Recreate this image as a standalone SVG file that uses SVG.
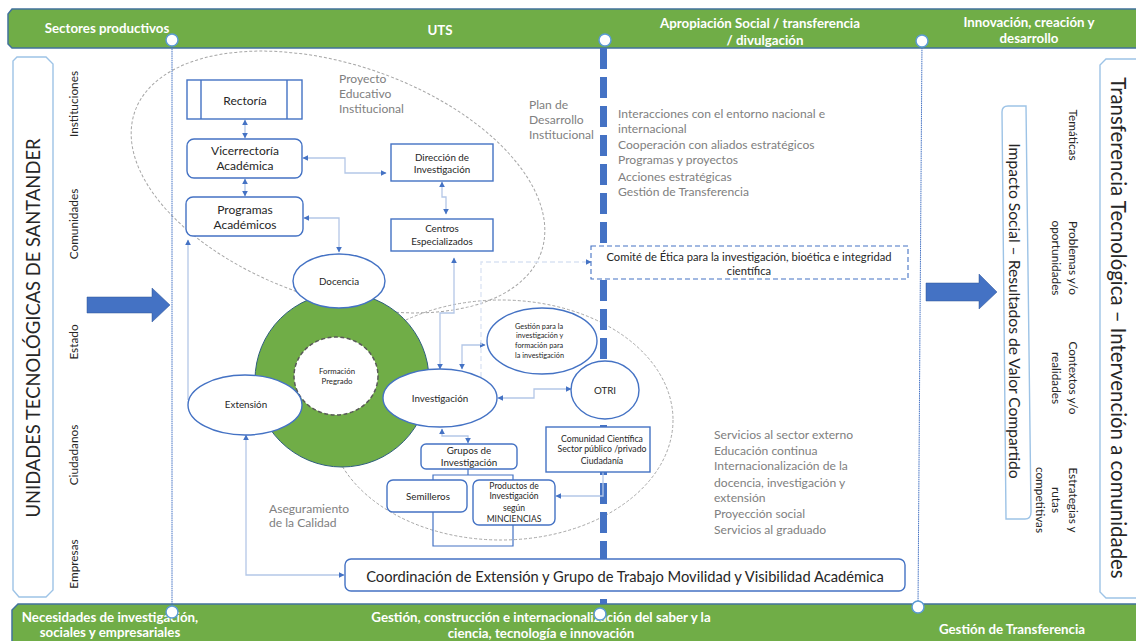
<svg xmlns="http://www.w3.org/2000/svg" width="1136" height="641" viewBox="0 0 1136 641">
<style>
text{font-family:"Lato","Liberation Sans",sans-serif;fill:#262626}
.band{fill:#70AD47;stroke:#41719C;stroke-width:1.5}
.bt{fill:#fff;font-weight:700;font-size:13.3px;text-anchor:middle}
.dot{fill:#fff;stroke:#5B9BD5;stroke-width:1.5}
.n{fill:#fff;stroke:#4472C4;stroke-width:1.4}
.nl{fill:#fff;stroke:#9DC3E6;stroke-width:1.4}
.c{font-size:12px;text-anchor:middle}
.s{font-size:9.8px;text-anchor:middle}
.g{font-size:12.1px;fill:#808080}
.v{font-size:11.8px;text-anchor:middle}
.cn{fill:none;stroke:#B4C7E7;stroke-width:1.3;marker-start:url(#a);marker-end:url(#a)}
.ce{fill:none;stroke:#B4C7E7;stroke-width:1.3;marker-end:url(#a)}
.br{fill:none;stroke:#4472C4;stroke-width:1.2}
.el{fill:none;stroke:#A6A6A6;stroke-width:1;stroke-dasharray:3 2}
</style>
<defs>
<marker id="a" viewBox="0 0 10 10" refX="9" refY="5" markerWidth="6" markerHeight="6" markerUnits="userSpaceOnUse" orient="auto-start-reverse"><path d="M0 0L10 5L0 10Z" fill="#4472C4"/></marker>
</defs>
<rect width="1136" height="641" fill="#fff"/>
<g id="band-top">
<path class="band" d="M12 9H1137V48H12L8 44V14Z"/>
<text class="bt" x="107" y="33">Sectores productivos</text>
<text class="bt" x="440" y="35">UTS</text>
<text class="bt" x="760" y="28">Apropiación Social / transferencia</text>
<text class="bt" x="765" y="45">/ divulgación</text>
<text class="bt" x="1029" y="27">Innovación, creación y</text>
<text class="bt" x="1029" y="43">desarrollo</text>
</g>
<g id="band-bottom">
<path class="band" d="M18 604H1137V642H12V610Z"/>
<text class="bt" x="110" y="622">Necesidades de investigación,</text>
<text class="bt" x="110" y="637">sociales y empresariales</text>
<text class="bt" x="541" y="622">Gestión, construcción e internacionalización del saber y la</text>
<text class="bt" x="541" y="638">ciencia, tecnología e innovación</text>
<text class="bt" x="1012" y="634">Gestión de Transferencia</text>
</g>
<g id="left-box">
<path class="nl" d="M17 57H46L53 64V590L46 597H19L13 590V61Z"/>
<text transform="translate(40 328) rotate(-90)" font-size="18.4" text-anchor="middle">UNIDADES TECNOLÓGICAS DE SANTANDER</text>
</g>
<g id="left-labels">
<text class="v" transform="translate(78 104) rotate(-90)">Instituciones</text>
<text class="v" transform="translate(78 224) rotate(-90)">Comunidades</text>
<text class="v" transform="translate(78 342) rotate(-90)">Estado</text>
<text class="v" transform="translate(78 455) rotate(-90)">Ciudadanos</text>
<text class="v" transform="translate(78 564) rotate(-90)">Empresas</text>
</g>
<g id="scope-ellipses">
<ellipse class="el" cx="338" cy="182" rx="215" ry="117" transform="rotate(19 338 182)"/>
<ellipse class="el" cx="501" cy="420" rx="172" ry="120"/>
</g>
<g id="connectors">
<path d="M172 40V612" fill="none" stroke="#4472C4" stroke-width="1" stroke-dasharray="1.5 .7"/>
<path d="M922 41L918 607" fill="none" stroke="#4472C4" stroke-width="1" stroke-dasharray="1.5 .7"/>
<path d="M603.5 48V604" fill="none" stroke="#4472C4" stroke-width="7" stroke-dasharray="21 8"/>
<path class="cn" d="M245 120V138"/>
<path class="cn" d="M245 179V196"/>
<path class="cn" d="M303 158H345V173H386"/>
<path class="cn" d="M442 182V197H446V214"/>
<path class="cn" d="M304 218H339V252"/>
<path class="cn" d="M454 258V313H440V369"/>
<path class="cn" d="M462 369V345H485"/>
<path class="cn" d="M498 398H534V389H571"/>
<path class="cn" d="M442 429V436H468V443"/>
<path class="ce" d="M603 472V496H556"/>
<path class="cn" d="M246 435V575H344"/>
<path class="ce" d="M188 400V240"/>
<path class="ce" style="stroke:#DAE3F3" d="M481 377V262H591" stroke-dasharray="5 3"/>
<path class="br" d="M468 469V475M433 480V475H513V480M433 512V546H513V525"/>
</g>
<g id="formacion">
<circle cx="342" cy="380" r="87" fill="#70AD47" stroke="#2F5F7F" stroke-width="1"/>
<ellipse cx="336" cy="376" rx="42" ry="39" fill="#fff" stroke="#595959" stroke-width="1.5" stroke-dasharray="4 2.5"/>
<text font-size="7.8" text-anchor="middle" x="337" y="374">Formación</text>
<text font-size="7.8" text-anchor="middle" x="337" y="384">Pregrado</text>
</g>
<g id="rectoria">
<rect class="n" x="187" y="80" width="115" height="39"/>
<path class="n" d="M201 80V119M287 80V119"/>
<text class="c" x="245" y="105">Rectoría</text>
</g>
<g id="vicerrectoria">
<rect class="n" x="187" y="139" width="115" height="39" rx="7"/>
<text class="c" x="245" y="155">Vicerrectoría</text>
<text class="c" x="245" y="170">Académica</text>
</g>
<g id="programas">
<rect class="n" x="186" y="197" width="117" height="39" rx="7"/>
<text class="c" x="245" y="214">Programas</text>
<text class="c" x="245" y="229">Académicos</text>
</g>
<g id="direccion">
<rect class="n" x="391" y="144" width="102" height="37"/>
<text class="s" x="442" y="161">Dirección de</text>
<text class="s" x="442" y="173">Investigación</text>
</g>
<g id="centros">
<rect class="n" x="391" y="219" width="102" height="32"/>
<text class="s" x="442" y="232">Centros</text>
<text class="s" x="442" y="245">Especializados</text>
</g>
<g id="docencia">
<ellipse class="n" cx="339" cy="281" rx="46" ry="27"/>
<text class="s" x="339" y="285">Docencia</text>
</g>
<g id="extension">
<ellipse class="n" cx="245" cy="405" rx="57" ry="30"/>
<text class="s" x="246" y="408">Extensión</text>
</g>
<g id="investigacion">
<ellipse class="n" cx="440" cy="398" rx="57" ry="29"/>
<text class="s" x="440" y="402">Investigación</text>
</g>
<g id="gestion">
<ellipse class="n" cx="542" cy="341" rx="55" ry="33"/>
<text font-size="7.3" x="515" y="329">Gestión para la</text>
<text font-size="7.3" x="516" y="338">investigación y</text>
<text font-size="7.3" x="515" y="348">formación para</text>
<text font-size="7.3" x="515" y="358">la investigación</text>
</g>
<g id="otri">
<ellipse class="n" cx="605" cy="390" rx="34" ry="29"/>
<text class="s" x="605" y="394">OTRI</text>
</g>
<g id="comunidad">
<rect class="n" x="546" y="427" width="104" height="45"/>
<text font-size="8.7" text-anchor="middle" x="602" y="442">Comunidad Científica</text>
<text font-size="8.7" text-anchor="middle" x="602" y="452">Sector público /privado</text>
<text font-size="8.7" text-anchor="middle" x="602" y="464">Ciudadanía</text>
</g>
<g id="grupos">
<rect class="n" x="421" y="444" width="96" height="25" rx="5"/>
<text class="s" x="469" y="454">Grupos de</text>
<text class="s" x="469" y="466">Investigación</text>
</g>
<g id="semilleros">
<rect class="n" x="387" y="480" width="80" height="32" rx="6"/>
<text class="s" x="428" y="500">Semilleros</text>
</g>
<g id="productos">
<rect class="n" x="473" y="480" width="82" height="45" rx="6"/>
<text font-size="8.5" text-anchor="middle" x="514" y="489">Productos de</text>
<text font-size="8.5" text-anchor="middle" x="514" y="499">Investigación</text>
<text font-size="8.5" text-anchor="middle" x="514" y="511">según</text>
<text font-size="8.5" text-anchor="middle" x="514" y="522">MINCIENCIAS</text>
</g>
<g id="comite">
<rect x="591" y="246" width="317" height="33" fill="#fff" stroke="#4472C4" stroke-width="1.1" stroke-dasharray="5 3"/>
<text font-size="11.2" text-anchor="middle" x="749" y="261">Comité de Ética para la investigación, bioética e integridad</text>
<text font-size="11.2" text-anchor="middle" x="749" y="275">científica</text>
</g>
<g id="coordinacion">
<rect class="n" x="345" y="559" width="560" height="32" rx="6"/>
<text font-size="14.7" text-anchor="middle" x="625" y="582">Coordinación de Extensión y Grupo de Trabajo Movilidad y Visibilidad Académica</text>
</g>
<g id="notes">
<text class="g" x="339" y="83">Proyecto</text>
<text class="g" x="339" y="98">Educativo</text>
<text class="g" x="339" y="113">Institucional</text>
<text class="g" x="529" y="109">Plan de</text>
<text class="g" x="529" y="124">Desarrollo</text>
<text class="g" x="529" y="139">Institucional</text>
<text class="g" x="618" y="118">Interacciones con el entorno nacional e</text>
<text class="g" x="618" y="133">internacional</text>
<text class="g" x="618" y="149">Cooperación con aliados estratégicos</text>
<text class="g" x="618" y="164">Programas y proyectos</text>
<text class="g" x="618" y="181">Acciones estratégicas</text>
<text class="g" x="618" y="196">Gestión de Transferencia</text>
<text class="g" x="714" y="439">Servicios al sector externo</text>
<text class="g" x="714" y="455">Educación continua</text>
<text class="g" x="714" y="470">Internacionalización de la</text>
<text class="g" x="714" y="487">docencia, investigación y</text>
<text class="g" x="714" y="502">extensión</text>
<text class="g" x="714" y="518">Proyección social</text>
<text class="g" x="714" y="534">Servicios al graduado</text>
<text class="g" x="269" y="513">Aseguramiento</text>
<text class="g" x="269" y="527">de la Calidad</text>
</g>
<g id="arrow-left"><path d="M87 297H152V288L170 305L152 322V313H87Z" fill="#4472C4" stroke="#2F5597" stroke-width=".5"/></g>
<g id="arrow-right"><path d="M926 283H979V274L997 292L979 309V301H926Z" fill="#4472C4" stroke="#2F5597" stroke-width=".5"/></g>
<g id="impacto">
<path class="nl" d="M1002 112Q1002 106 1008 106H1026L1031 512Q1031 519 1025 519H1006Z"/>
<text transform="translate(1009 311) rotate(90)" font-size="15.6" text-anchor="middle">Impacto Social – Resultados de Valor Compartido</text>
</g>
<g id="transferencia">
<path class="nl" d="M1106 59H1140V598H1106L1100 592V65Z"/>
<text transform="translate(1111 328) rotate(90)" font-size="20.4" text-anchor="middle">Transferencia Tecnológica – Intervención a comunidades</text>
</g>
<g id="right-labels">
<text class="v" transform="translate(1069 135) rotate(90)">Temáticas</text>
<text class="v" transform="translate(1069 258) rotate(90)">Problemas y/o</text>
<text class="v" transform="translate(1052 258) rotate(90)">oportunidades</text>
<text class="v" transform="translate(1069 378) rotate(90)">Contextos y/o</text>
<text class="v" transform="translate(1052 378) rotate(90)">realidades</text>
<text class="v" transform="translate(1069 500) rotate(90)">Estrategias y</text>
<text class="v" transform="translate(1052 500) rotate(90)">rutas</text>
<text class="v" transform="translate(1036 500) rotate(90)">competitivas</text>
</g>
<g id="band-dots">
<circle class="dot" cx="172" cy="40" r="6"/>
<circle class="dot" cx="605" cy="40" r="6"/>
<circle class="dot" cx="922" cy="41" r="6"/>
<circle class="dot" cx="172" cy="612" r="6"/>
<circle class="dot" cx="600" cy="614" r="6"/>
<circle class="dot" cx="918" cy="607" r="6"/>
</g>
</svg>
